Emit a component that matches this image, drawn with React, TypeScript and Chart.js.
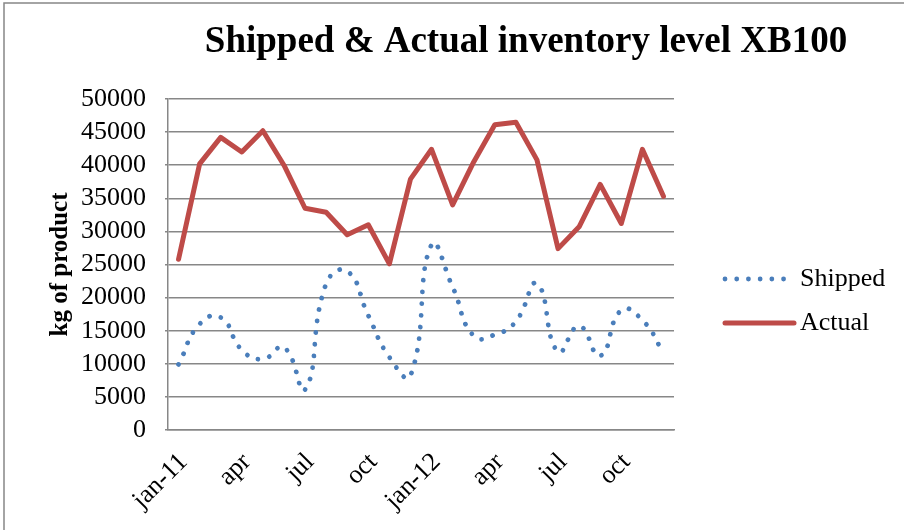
import React, { useEffect, useRef } from "react";
import { Chart, registerables } from "chart.js";

Chart.register(...registerables);

const months = [
  "jan-11", "feb", "mar", "apr", "may", "jun", "jul", "aug", "sep", "oct", "nov", "dec",
  "jan-12", "feb", "mar", "apr", "may", "jun", "jul", "aug", "sep", "oct", "nov", "dec",
];
const shipped = [
  9900, 16000, 17000, 12100, 10700, 12500, 6100, 22100, 24000, 17300, 11000, 8200,
  28000, 21600, 14200, 14400, 16400, 22100, 11800, 15700, 11200, 18100, 16600, 11700,
];
const actual = [
  25800, 40200, 44200, 42000, 45200, 40000, 33500, 32900, 29500, 31000, 25100, 37900,
  42400, 34000, 40500, 46100, 46500, 40800, 27400, 30700, 37100, 31200, 42400, 35300,
];
const titleText = "Shipped & Actual inventory level XB100";
const yTitle = "kg of product";

const SERIF = "'Liberation Serif', 'Times New Roman', serif";
const BLUE = "#4A7EBB";
const RED = "#BE4B48";
const GRID = "#878787";

const decorPlugin = {
  id: "decor",
  beforeDraw(chart: any) {
    const ctx = chart.ctx;
    ctx.save();
    ctx.strokeStyle = GRID;
    ctx.lineWidth = 1.5;
    ctx.beginPath();
    ctx.moveTo(4, 530);
    ctx.lineTo(4, 3);
    ctx.lineTo(904, 3);
    ctx.stroke();
    ctx.restore();
  },
  afterDraw(chart: any) {
    const ctx = chart.ctx;
    ctx.save();
    // title
    ctx.fillStyle = "#000";
    ctx.font = `bold 37px ${SERIF}`;
    ctx.textAlign = "center";
    ctx.textBaseline = "alphabetic";
    ctx.fillText(titleText, 526, 52);
    // legend
    const ds = chart.data.datasets;
    const rows = [279, 323];
    ds.forEach((d: any, i: number) => {
      const y = rows[i];
      ctx.beginPath();
      ctx.strokeStyle = d.borderColor;
      ctx.lineWidth = d.borderWidth;
      ctx.lineCap = "round";
      ctx.setLineDash(d.borderDash || []);
      if (i === 0) {
        ctx.moveTo(725, y);
        ctx.lineTo(787, y);
      } else {
        ctx.moveTo(725, y);
        ctx.lineTo(794, y);
      }
      ctx.stroke();
      ctx.setLineDash([]);
      ctx.fillStyle = "#000";
      ctx.font = `26px ${SERIF}`;
      ctx.textAlign = "left";
      ctx.textBaseline = "middle";
      ctx.fillText(d.label, 800, y);
    });
    ctx.restore();
  },
};

export default function App() {
  const ref = useRef<HTMLCanvasElement | null>(null);
  useEffect(() => {
    if (!ref.current) return;
    const chart = new Chart(ref.current, {
      type: "line",
      data: {
        labels: months,
        datasets: [
          {
            label: "Shipped",
            data: shipped,
            borderColor: BLUE,
            borderWidth: 4.8,
            borderDash: [0.01, 11.7],
            borderCapStyle: "round",
            pointRadius: 0,
            tension: 0.5,
            fill: false,
          },
          {
            label: "Actual",
            data: actual,
            borderColor: RED,
            borderWidth: 5,
            borderJoinStyle: "round",
            borderCapStyle: "round",
            pointRadius: 0,
            tension: 0,
            fill: false,
          },
        ],
      },
      options: {
        responsive: false,
        animation: false,
        layout: { padding: { left: 4, top: 99, right: 230, bottom: 0 } },
        plugins: {
          legend: { display: false },
          title: { display: false },
          tooltip: { enabled: false },
        },
        scales: {
          x: {
            offset: true,
            grid: { display: false },
            border: { display: true, color: GRID, width: 1.5 },
            ticks: {
              autoSkip: false,
              minRotation: 45,
              maxRotation: 45,
              color: "#000",
              font: { family: SERIF, size: 26 },
              padding: 9,
              labelOffset: 5,
              callback: (_v: any, i: number) => (i % 3 === 0 ? months[i] : ""),
            },
            afterFit: (s: any) => {
              s.height = 100;
            },
          },
          y: {
            min: 0,
            max: 50000,
            grid: { color: GRID, lineWidth: 1.5, tickLength: 3 },
            border: { display: true, color: GRID, width: 1.5 },
            ticks: {
              stepSize: 5000,
              autoSkip: false,
              color: "#000",
              padding: 19,
              font: { family: SERIF, size: 26, lineHeight: 1 },
              callback: (v: any) => String(v),
            },
            title: {
              display: true,
              text: yTitle,
              color: "#000",
              font: { family: SERIF, size: 25, weight: "bold" },
              padding: { top: 42, bottom: 0 },
            },
            afterFit: (s: any) => {
              s.width = 164;
            },
          },
        },
      },
      plugins: [decorPlugin],
    });
    return () => chart.destroy();
  }, []);
  return (
    <div style={{ position: "absolute", left: 0, top: 0, width: 904, height: 530 }}>
      <canvas ref={ref} width={904} height={530} style={{ width: 904, height: 530 }} />
    </div>
  );
}
